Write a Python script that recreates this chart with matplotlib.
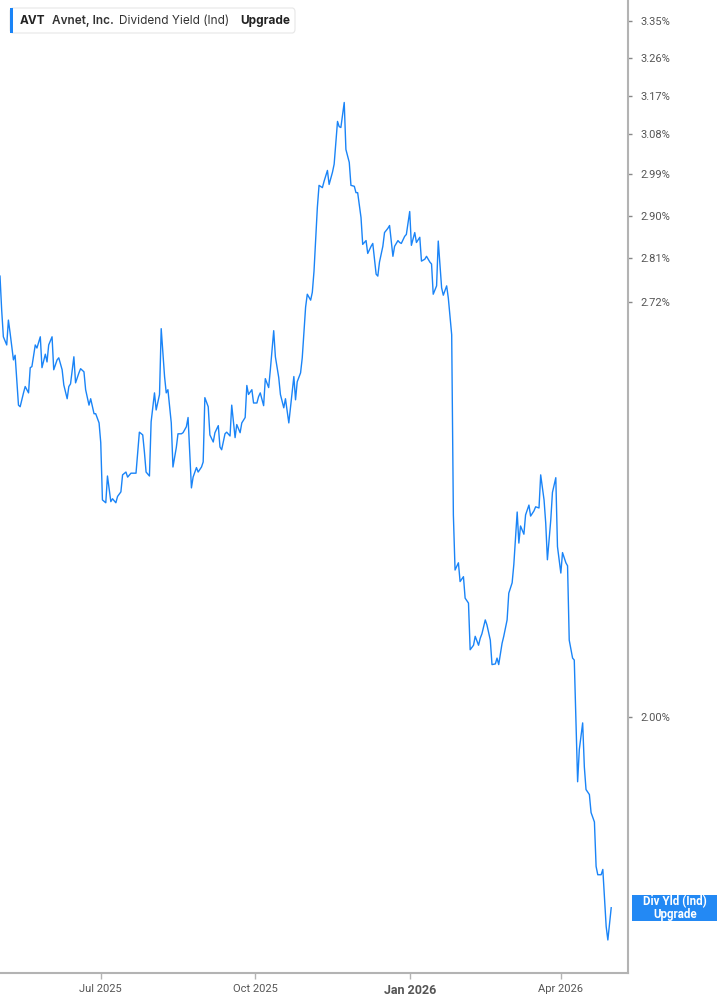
import pandas as pd
import matplotlib
matplotlib.use("Agg")
import matplotlib.pyplot as plt
from matplotlib.patches import Rectangle, FancyBboxPatch
from matplotlib.ticker import NullLocator

# days since 2025-05-02 and the indicated dividend yield (%) on that day
start = pd.Timestamp("2025-05-02")
days = [0, 1, 2, 4, 5, 6, 8, 9, 11, 12, 14, 15, 17, 18, 19, 21, 22, 24, 25, 27,
        28, 29, 31, 32, 34, 35, 37, 38, 40, 41, 42, 44, 45, 47, 48, 50, 51, 53, 54, 56,
        57, 59, 60, 61, 63, 64, 66, 67, 69, 70, 72, 73, 75, 76, 78, 79, 80, 81, 83, 85,
        86, 87, 89, 90, 92, 93, 95, 96, 98, 99, 100, 102, 103, 105, 106, 108, 109, 111, 112, 114,
        115, 117, 118, 120, 121, 122, 124, 125, 127, 128, 130, 131, 132, 134, 135, 137, 138, 140, 141, 143,
        144, 146, 147, 148, 150, 151, 153, 154, 155, 157, 158, 160, 161, 163, 164, 166, 167, 169, 170, 172,
        175, 176, 177, 179, 180, 182, 183, 185, 186, 187, 189, 190, 192, 193, 195, 196, 198, 199, 201, 202,
        203, 205, 206, 208, 209, 211, 212, 213, 215, 216, 218, 219, 221, 222, 224, 225, 226, 228, 229, 231,
        232, 234, 235, 237, 238, 239, 241, 242, 244, 245, 247, 248, 250, 251, 253, 254, 256, 257, 258, 260,
        261, 263, 264, 266, 267, 269, 270, 271, 273, 274, 276, 277, 279, 280, 282, 283, 285, 286, 287, 289,
        290, 292, 293, 295, 296, 297, 299, 300, 302, 303, 305, 306, 308, 309, 310, 312, 313, 315, 316, 318,
        319, 321, 322, 324, 325, 326, 328, 329, 331, 332, 334, 335, 337, 338, 339, 341, 342, 344, 345, 347,
        348, 349, 351, 352, 354, 355, 356, 358, 359, 361, 362, 364]
yld = [2.773, 2.704, 2.651, 2.635, 2.684, 2.659, 2.606, 2.615, 2.520, 2.517, 2.543, 2.555, 2.543, 2.591, 2.593, 2.635, 2.629, 2.651, 2.591, 2.617,
       2.602, 2.635, 2.651, 2.587, 2.606, 2.610, 2.587, 2.558, 2.532, 2.555, 2.560, 2.612, 2.562, 2.581, 2.589, 2.583, 2.549, 2.520, 2.532, 2.504,
       2.504, 2.487, 2.451, 2.349, 2.344, 2.391, 2.346, 2.351, 2.344, 2.355, 2.363, 2.393, 2.398, 2.389, 2.396, 2.396, 2.396, 2.396, 2.470, 2.465,
       2.434, 2.398, 2.391, 2.489, 2.543, 2.511, 2.540, 2.667, 2.574, 2.543, 2.549, 2.487, 2.407, 2.442, 2.467, 2.467, 2.469, 2.480, 2.497, 2.370,
       2.389, 2.406, 2.398, 2.407, 2.416, 2.534, 2.517, 2.465, 2.452, 2.469, 2.482, 2.443, 2.438, 2.467, 2.470, 2.463, 2.520, 2.460, 2.484, 2.469,
       2.487, 2.497, 2.557, 2.540, 2.549, 2.524, 2.524, 2.536, 2.543, 2.519, 2.570, 2.553, 2.587, 2.663, 2.612, 2.572, 2.540, 2.515, 2.532, 2.487,
       2.574, 2.530, 2.564, 2.581, 2.610, 2.710, 2.736, 2.724, 2.740, 2.783, 2.918, 2.966, 2.961, 2.975, 2.999, 2.968, 2.995, 3.013, 3.110, 3.098,
       3.096, 3.154, 3.046, 3.017, 2.966, 2.964, 2.950, 2.950, 2.896, 2.839, 2.847, 2.820, 2.835, 2.841, 2.777, 2.773, 2.802, 2.835, 2.864, 2.873,
       2.879, 2.814, 2.835, 2.847, 2.843, 2.841, 2.856, 2.860, 2.909, 2.837, 2.864, 2.843, 2.854, 2.804, 2.808, 2.814, 2.802, 2.798, 2.736, 2.753,
       2.846, 2.749, 2.734, 2.753, 2.728, 2.655, 2.323, 2.230, 2.242, 2.211, 2.219, 2.184, 2.176, 2.102, 2.109, 2.123, 2.109, 2.120, 2.127, 2.149,
       2.141, 2.117, 2.079, 2.080, 2.089, 2.079, 2.112, 2.123, 2.149, 2.192, 2.209, 2.239, 2.328, 2.275, 2.304, 2.290, 2.323, 2.340, 2.321, 2.330,
       2.337, 2.335, 2.393, 2.349, 2.309, 2.247, 2.314, 2.362, 2.388, 2.269, 2.225, 2.259, 2.242, 2.237, 2.117, 2.089, 2.086, 1.906, 1.952, 1.991,
       1.927, 1.895, 1.888, 1.863, 1.850, 1.790, 1.779, 1.779, 1.786, 1.712, 1.695, 1.736]

ytick_vals = [2.00, 2.72, 2.81, 2.90, 2.99, 3.08, 3.17, 3.26, 3.35]
xtick_dates = ["2025-07-01", "2025-10-01", "2026-01-01", "2026-04-01"]
xtick_labels = ["Jul 2025", "Oct 2025", "Jan 2026", "Apr 2026"]

dates = start + pd.to_timedelta(days, unit="D")

line_col = "#1a84f7"
grey = "#b3b3b3"
txt = "#555555"

fig = plt.figure(figsize=(7.17, 10.05), dpi=100)
ax = fig.add_axes([0.0, 1 - 973 / 1005, 628 / 717, 973 / 1005])

ax.plot(dates, yld, color=line_col, lw=1.0)

ax.set_yscale("log")
ax.set_ylim(1.654, 3.403)
ax.set_xlim(start, pd.Timestamp("2026-05-11"))

ax.yaxis.set_minor_locator(NullLocator())
ax.set_yticks(ytick_vals)
ax.set_yticklabels(["%.2f%%" % v for v in ytick_vals])
ax.yaxis.tick_right()
ax.tick_params(axis="y", length=3, width=1, color="#888888", labelcolor=txt,
               labelsize=8, pad=6)
for lab in ax.get_yticklabels():
    lab.set_family("Roboto")

ax.set_xticks(pd.to_datetime(xtick_dates))
ax.set_xticklabels(xtick_labels)
ax.tick_params(axis="x", length=4, width=1, color=grey, labelcolor=txt,
               labelsize=8, pad=4)
for i, lab in enumerate(ax.get_xticklabels()):
    lab.set_family("Roboto")
    if xtick_labels[i] == "Jan 2026":
        lab.set_fontweight("bold")
        lab.set_fontsize(9)

for s in ["top", "left"]:
    ax.spines[s].set_visible(False)
for s in ["right", "bottom"]:
    ax.spines[s].set_color(grey)
    ax.spines[s].set_linewidth(1.5)

# header box in top left
fig.patches.append(FancyBboxPatch((10 / 717, 1 - 33 / 1005), 285 / 717, 25 / 1005,
                                  boxstyle="round,pad=0,rounding_size=0.004",
                                  transform=fig.transFigure, facecolor="white",
                                  edgecolor="#e6e6e6", lw=0.8))
fig.patches.append(Rectangle((10 / 717, 1 - 33 / 1005), 3 / 717, 25 / 1005,
                             transform=fig.transFigure, facecolor=line_col, edgecolor="none"))
hy = 1 - 21 / 1005
fig.text(20 / 717, hy, "AVT", fontsize=8.5, fontweight="bold", color="#222222",
         family="Inter", va="center")
fig.text(52 / 717, hy, "Avnet, Inc.", fontsize=8.5, fontweight="semibold", color="#333333",
         family="Inter", va="center")
fig.text(119 / 717, hy, "Dividend Yield (Ind)", fontsize=8.5, color="#333333",
         family="Inter", va="center")
fig.text(240 / 717, hy, "Upgrade", fontsize=8.5, fontweight="bold", color="#222222",
         family="Inter", va="center")

# last value label on the right axis
fig.patches.append(Rectangle((632 / 717, 1 - 921 / 1005), 85 / 717, 26 / 1005,
                             transform=fig.transFigure, facecolor="#2389f4", edgecolor="none"))
fig.text(675 / 717, 1 - 908 / 1005, "Div Yld (Ind)\nUpgrade", fontsize=8.3,
         fontweight="bold", color="white", ha="center", va="center",
         family="Roboto", linespacing=1.0)

fig.savefig("out.png", dpi=100)
